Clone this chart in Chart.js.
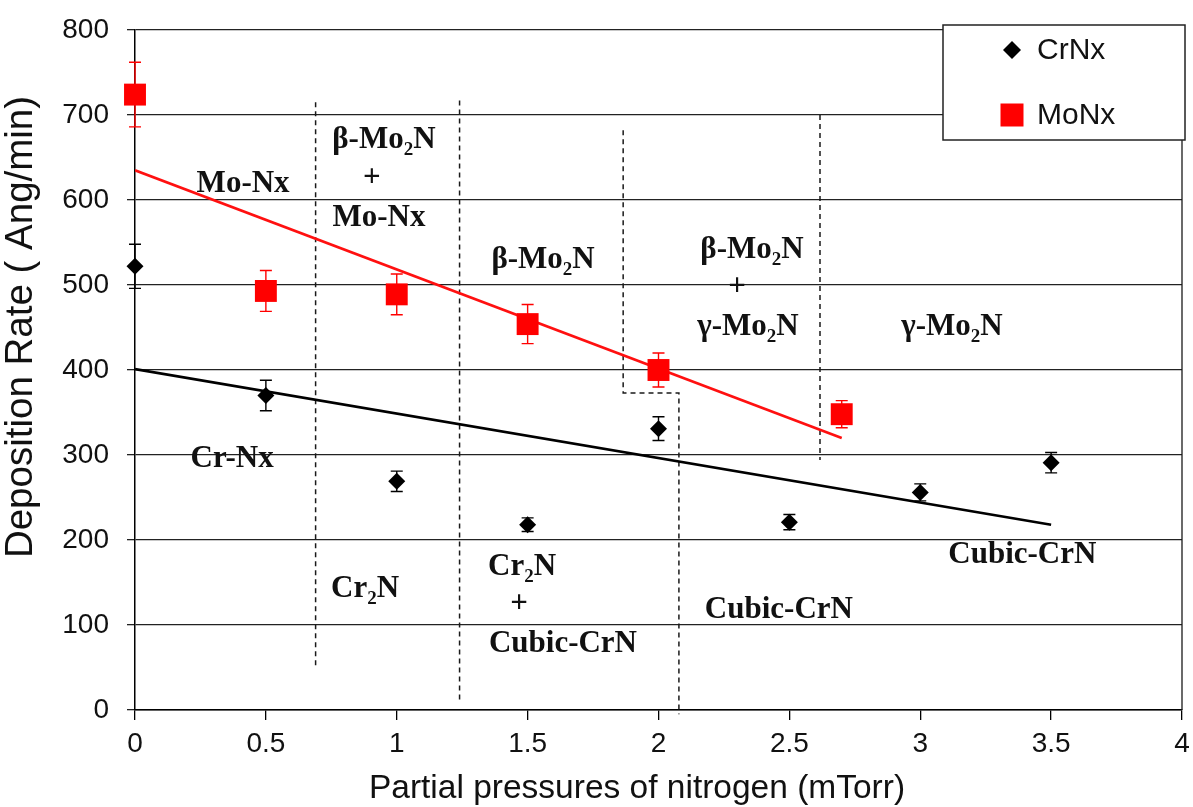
<!DOCTYPE html>
<html>
<head>
<meta charset="utf-8">
<script src="https://cdn.jsdelivr.net/npm/chart.js@4.4.1/dist/chart.umd.min.js"></script>
<style>
  html, body { margin: 0; padding: 0; background: #ffffff; }
  #wrap { width: 1193px; height: 807px; }
</style>
</head>
<body>
<div id="wrap"><canvas id="chart" width="1193" height="807"></canvas></div>
<script>
// Deposition rate of CrNx films versus N2 partial pressure
const crPressure = [0, 0.5, 1, 1.5, 2, 2.5, 3, 3.5];
const crRate     = [522, 370, 269, 218, 331, 221, 256, 291];
const crError    = [26, 18, 12, 8, 14, 9, 10, 12];

// Deposition rate of MoNx films versus N2 partial pressure
const moPressure = [0, 0.5, 1, 1.5, 2, 2.7];
const moRate     = [724, 493, 489, 454, 400, 348];
const moError    = [38, 24, 24, 23, 20, 16];

// Linear trend lines (end points)
const crTrendX = [0, 3.5];
const crTrendY = [401, 218];
const moTrendX = [0, 2.7];
const moTrendY = [635, 320];

// Axis ticks
const xTickValues = [0, 0.5, 1, 1.5, 2, 2.5, 3, 3.5, 4];
const yTickValues = [0, 100, 200, 300, 400, 500, 600, 700, 800];

// Phase-region boundaries (dashed polylines, data coordinates)
const phaseBoundaries = [
  [[0.69, 715], [0.69, 49]],
  [[1.24, 717], [1.24, 12]],
  [[1.865, 682], [1.865, 373], [2.078, 373], [2.078, -5]],
  [[2.617, 700], [2.617, 294]]
];

// Phase labels ("_2" marks a subscript 2)
const phaseLabels = [
  { text: 'Mo-Nx',     x: 0.413, y: 622 },
  { text: 'β-Mo_2N',   x: 0.951, y: 673 },
  { text: '+',         x: 0.905, y: 629 },
  { text: 'Mo-Nx',     x: 0.932, y: 582 },
  { text: 'β-Mo_2N',   x: 1.559, y: 532 },
  { text: 'β-Mo_2N',   x: 2.357, y: 544 },
  { text: '+',         x: 2.300, y: 500 },
  { text: 'γ-Mo_2N',   x: 2.342, y: 453 },
  { text: 'γ-Mo_2N',   x: 3.121, y: 453 },
  { text: 'Cr-Nx',     x: 0.371, y: 298 },
  { text: 'Cr_2N',     x: 0.879, y: 145 },
  { text: 'Cr_2N',     x: 1.479, y: 171 },
  { text: '+',         x: 1.467, y: 127 },
  { text: 'Cubic-CrN', x: 1.635, y: 80 },
  { text: 'Cubic-CrN', x: 2.460, y: 120 },
  { text: 'Cubic-CrN', x: 3.390, y: 185 }
];

const SANS = '"Liberation Sans", Arial, sans-serif';
const SERIF = '"Liberation Serif", "Times New Roman", serif';
const X_TITLE = 'Partial pressures of nitrogen (mTorr)';
const Y_TITLE = 'Deposition Rate ( Ang/min)';

const toPoints = (xs, ys) => xs.map((x, i) => ({ x: x, y: ys[i] }));

// Error bars, drawn from each dataset's "errors" array
const errorBarPlugin = {
  id: 'errorBars',
  afterDatasetsDraw(chart) {
    const ctx = chart.ctx;
    const xs = chart.scales.x, ys = chart.scales.y;
    chart.data.datasets.forEach((ds) => {
      if (!ds.errors) return;
      ctx.save();
      ctx.strokeStyle = ds.errorColor;
      ctx.lineWidth = 1.4;
      ds.data.forEach((p, i) => {
        const e = ds.errors[i];
        const px = xs.getPixelForValue(p.x);
        const top = ys.getPixelForValue(p.y + e);
        const bot = ys.getPixelForValue(p.y - e);
        const cap = 6;
        ctx.beginPath();
        ctx.moveTo(px, top); ctx.lineTo(px, bot);
        ctx.moveTo(px - cap, top); ctx.lineTo(px + cap, top);
        ctx.moveTo(px - cap, bot); ctx.lineTo(px + cap, bot);
        ctx.stroke();
      });
      ctx.restore();
    });
  }
};

function drawRichText(ctx, text, cx, cy, size) {
  const parts = [];
  const re = /_(\d)/g;
  let last = 0, m;
  while ((m = re.exec(text)) !== null) {
    if (m.index > last) parts.push({ s: text.slice(last, m.index), sub: false });
    parts.push({ s: m[1], sub: true });
    last = m.index + m[0].length;
  }
  if (last < text.length) parts.push({ s: text.slice(last), sub: false });
  const mainFont = 'bold ' + size + 'px ' + SERIF;
  const subFont = 'bold ' + Math.round(size * 0.62) + 'px ' + SERIF;
  let total = 0;
  parts.forEach((p) => {
    ctx.font = p.sub ? subFont : mainFont;
    p.w = ctx.measureText(p.s).width;
    total += p.w;
  });
  const baseline = cy + size * 0.33;
  let x = cx - total / 2;
  ctx.textAlign = 'left';
  ctx.textBaseline = 'alphabetic';
  parts.forEach((p) => {
    ctx.font = p.sub ? subFont : mainFont;
    ctx.fillText(p.s, x, p.sub ? baseline + size * 0.22 : baseline);
    x += p.w;
  });
}

// Phase boundaries, phase labels, right frame, axis titles and legend
const overlayPlugin = {
  id: 'overlay',
  beforeDatasetsDraw(chart) {
    const ctx = chart.ctx;
    const xs = chart.scales.x, ys = chart.scales.y;
    const a = chart.chartArea;
    ctx.save();
    ctx.strokeStyle = '#1a1a1a';
    ctx.lineWidth = 1.3;
    ctx.beginPath();
    ctx.moveTo(a.right, a.top); ctx.lineTo(a.right, a.bottom);
    ctx.stroke();
    ctx.setLineDash([5, 4]);
    ctx.lineWidth = 1.5;
    phaseBoundaries.forEach((line) => {
      ctx.beginPath();
      line.forEach((pt, i) => {
        const px = xs.getPixelForValue(pt[0]);
        const py = ys.getPixelForValue(pt[1]);
        if (i === 0) ctx.moveTo(px, py); else ctx.lineTo(px, py);
      });
      ctx.stroke();
    });
    ctx.setLineDash([]);
    ctx.fillStyle = '#111';
    phaseLabels.forEach((l) => {
      drawRichText(ctx, l.text, xs.getPixelForValue(l.x), ys.getPixelForValue(l.y), 31);
    });
    // axis titles
    ctx.font = '33.5px ' + SANS;
    ctx.textAlign = 'center';
    ctx.textBaseline = 'middle';
    ctx.fillText(X_TITLE, 637, 789);
    ctx.translate(21, 327);
    ctx.rotate(-Math.PI / 2);
    ctx.font = '38.5px ' + SANS;
    ctx.fillText(Y_TITLE, 0, 0);
    ctx.restore();
  },
  afterDraw(chart) {
    const ctx = chart.ctx;
    const bx = 943, by = 25, bw = 242, bh = 115;
    ctx.save();
    ctx.fillStyle = '#ffffff';
    ctx.fillRect(bx, by, bw, bh);
    ctx.strokeStyle = '#222';
    ctx.lineWidth = 1.5;
    ctx.strokeRect(bx, by, bw, bh);
    const items = chart.data.datasets.filter((d) => d.errors);
    const rows = [50, 115];
    items.forEach((d, i) => {
      const cx = bx + 69, cy = by + rows[i] - 25;
      ctx.fillStyle = d.backgroundColor;
      ctx.beginPath();
      if (d.pointStyle === 'rectRot') {
        const r = 9;
        ctx.moveTo(cx - r, cy); ctx.lineTo(cx, cy - r);
        ctx.lineTo(cx + r, cy); ctx.lineTo(cx, cy + r);
        ctx.closePath();
      } else {
        ctx.rect(cx - 11.5, cy - 11.5, 23, 23);
      }
      ctx.fill();
      ctx.fillStyle = '#111';
      ctx.font = '30px ' + SANS;
      ctx.textAlign = 'left';
      ctx.textBaseline = 'middle';
      ctx.fillText(d.label, bx + 94, cy + 1);
    });
    ctx.restore();
  }
};

new Chart(document.getElementById('chart'), {
  type: 'scatter',
  data: {
    datasets: [
      {
        label: 'CrNx',
        data: toPoints(crPressure, crRate),
        errors: crError,
        errorColor: '#000000',
        pointStyle: 'rectRot',
        pointRadius: 8.5,
        backgroundColor: '#000000',
        borderColor: '#000000',
        borderWidth: 0,
        clip: false
      },
      {
        label: 'MoNx',
        data: toPoints(moPressure, moRate),
        errors: moError,
        errorColor: '#ff0000',
        pointStyle: 'rect',
        pointRadius: 15.5,
        backgroundColor: '#ff0000',
        borderColor: '#ff0000',
        borderWidth: 0,
        clip: false
      },
      {
        type: 'line',
        label: 'CrNx trend',
        data: toPoints(crTrendX, crTrendY),
        borderColor: '#000000',
        borderWidth: 2.6,
        pointRadius: 0,
        fill: false
      },
      {
        type: 'line',
        label: 'MoNx trend',
        data: toPoints(moTrendX, moTrendY),
        borderColor: '#ff1010',
        borderWidth: 2.6,
        pointRadius: 0,
        fill: false
      }
    ]
  },
  options: {
    responsive: false,
    animation: false,
    events: [],
    layout: { autoPadding: false, padding: { left: 0, right: 11, top: 30, bottom: 0 } },
    plugins: { legend: { display: false }, tooltip: { enabled: false } },
    scales: {
      x: {
        type: 'linear',
        min: 0,
        max: 4,
        afterBuildTicks: (s) => { s.ticks = xTickValues.map((v) => ({ value: v })); },
        afterFit: (s) => { s.height = 97; s.paddingLeft = 0; s.paddingRight = 0; },
        ticks: {
          callback: (v) => String(v),
          font: { family: SANS, size: 28 },
          color: '#111',
          padding: 7,
          maxRotation: 0,
          autoSkip: false
        },
        grid: { drawOnChartArea: false, drawTicks: true, tickLength: 10, color: '#000', lineWidth: 1.3 },
        border: { display: true, color: '#000', width: 1.5 }
      },
      y: {
        type: 'linear',
        min: 0,
        max: 800,
        afterBuildTicks: (s) => { s.ticks = yTickValues.map((v) => ({ value: v })); },
        afterFit: (s) => { s.width = 135; s.paddingTop = 0; s.paddingBottom = 0; },
        ticks: {
          callback: (v) => String(v),
          font: { family: SANS, size: 28 },
          color: '#111',
          padding: 18
        },
        grid: { color: '#222', lineWidth: 1.3, tickLength: 8 },
        border: { display: true, color: '#000', width: 1.5 }
      }
    }
  },
  plugins: [errorBarPlugin, overlayPlugin]
});
</script>
</body>
</html>
